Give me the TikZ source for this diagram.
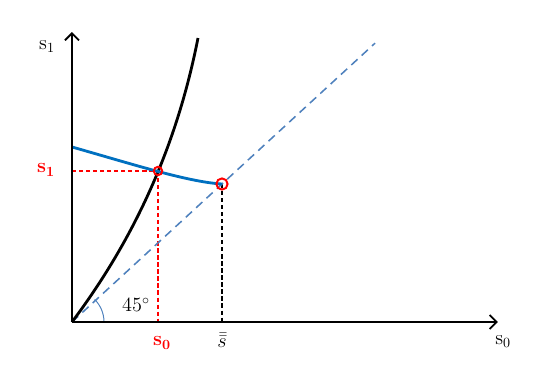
\documentclass[tikz,border=0pt]{standalone}
\usepackage{amsmath,amssymb,bm}
\usepackage{tikz}
\usetikzlibrary{arrows.meta,positioning,calc}

\definecolor{curveblue}{HTML}{0070C0}
\definecolor{lineblue}{HTML}{4F81BD}

\begin{document}
\begin{tikzpicture}[
    x=1cm,y=1cm,
    font=\Large,
    axis/.style={-{Straight Barb[length=5pt,width=10pt,line width=1.3pt]}, line width=1.3pt},
    curveblack/.style={line width=2pt, black},
    curveb/.style={line width=2pt, curveblue},
    diag/.style={line width=1.1pt, lineblue, dash pattern=on 6pt off 4pt},
    guide/.style={line width=0.75pt, dash pattern=on 3pt off 2pt},
    hit/.style={circle, draw=red, line width=1.4pt, inner sep=0pt},
    redlbl/.style={text=red, font=\Large\bfseries}
  ]
    % Bounding box
    \useasboundingbox (-1.8,-1.15) rectangle (11.55,8.05);

    % Punkte
    \coordinate (O) at (0,0);
    \coordinate (xend) at (10.65,0);
    \coordinate (yend) at (0,7.25);
    \coordinate (dend) at (7.575,6.97);
    \coordinate (bstart) at (0,4.375);
    \coordinate (e0) at (2.15,3.775);
    \coordinate (e1) at (3.75,3.45);
    \coordinate (e0x) at (2.15,0);
    \coordinate (e0y) at (0,3.775);
    \coordinate (e1x) at (3.75,0);

    % Hilfslinien
    \draw[guide, red]   (e0y) -- (e0);
    \draw[guide, red]   (e0) -- (e0x);
    \draw[guide, black] (e1) -- (e1x);

    % 45-Grad-Linie
    \draw[diag] (O) -- (dend);
    \draw[lineblue, line width=0.7pt] (0.8,0) arc[start angle=0, end angle=45, radius=0.8];

    % Kurven
    \draw[curveblack] (O) .. controls (1.5,2.0) and (2.6,4.3) .. (3.15,7.1);
    \draw[curveb] (bstart) .. controls (1.5,3.95) and (2.9,3.5) .. (e1);

    % Kreise
    \node[hit, minimum size=6pt] (c0) at (e0) {};
    \node[hit, minimum size=8pt] (c1) at (e1) {};

    % Achsen
    \draw[axis] (O) -- (xend);
    \draw[axis] (O) -- (yend);

    % Beschriftungen
    \node (ylbl) at (-0.625,6.875) {$\mathrm{s}_1$};
    \node (xlbl) at (10.78,-0.5) {$\mathrm{s}_0$};
    \node[redlbl] (s1lbl) at (-0.65,3.8) {$\mathbf{s}_{\mathbf{1}}$};
    \node[redlbl] (s0lbl) at (2.25,-0.525) {$\mathbf{s}_{\mathbf{0}}$};
    \node (sbar) at (3.75,-0.45) {$\bar{\bar{s}}$};
    \node (ang) at (1.6,0.42) {$45^{\circ}$};
  \end{tikzpicture}
\end{document}
